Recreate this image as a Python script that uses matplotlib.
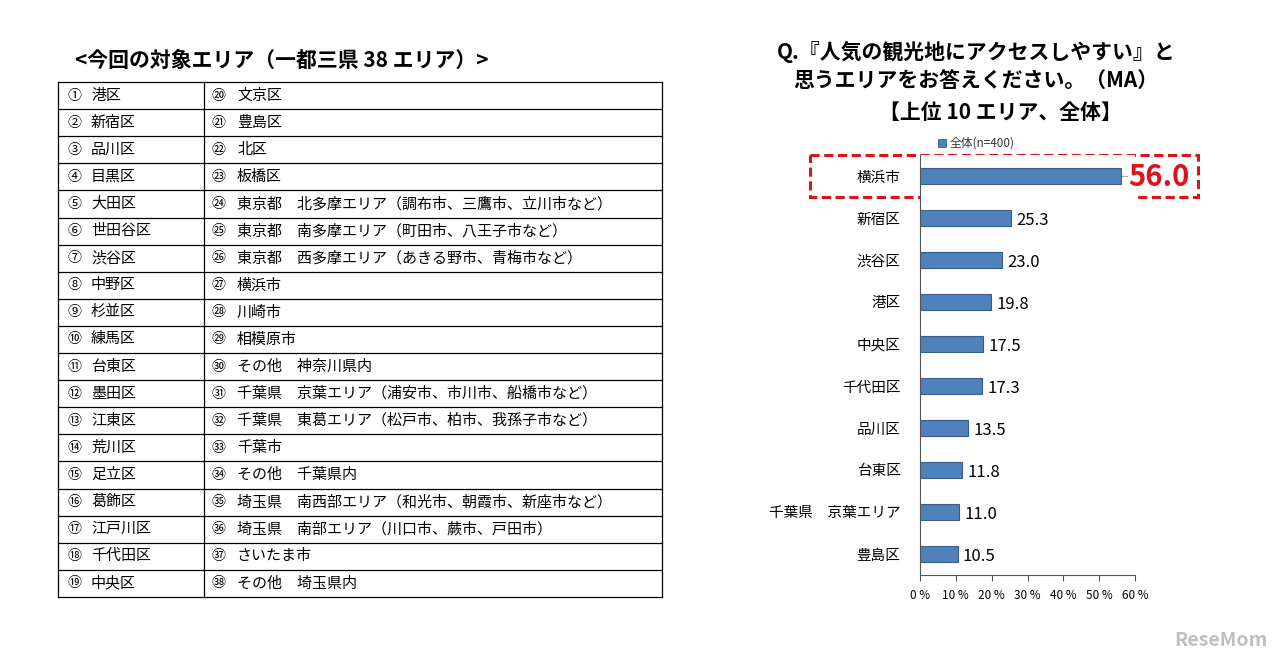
import matplotlib
matplotlib.use('Agg')
import matplotlib.pyplot as plt
from matplotlib.patches import Rectangle

plt.rcParams['font.family'] = ['Noto Sans CJK JP', 'DejaVu Sans']

# table data
leftNums = ['①', '②', '③', '④', '⑤', '⑥', '⑦', '⑧', '⑨', '⑩',
            '⑪', '⑫', '⑬', '⑭', '⑮', '⑯', '⑰', '⑱', '⑲']
leftNames = ['港区', '新宿区', '品川区', '目黒区', '大田区', '世田谷区', '渋谷区',
             '中野区', '杉並区', '練馬区', '台東区', '墨田区', '江東区', '荒川区',
             '足立区', '葛飾区', '江戸川区', '千代田区', '中央区']
rightNums = ['⑳', '㉑', '㉒', '㉓', '㉔', '㉕', '㉖', '㉗', '㉘', '㉙',
             '㉚', '㉛', '㉜', '㉝', '㉞', '㉟', '㊱', '㊲', '㊳']
rightNames = ['文京区', '豊島区', '北区', '板橋区',
              '東京都　北多摩エリア（調布市、三鷹市、立川市など）',
              '東京都　南多摩エリア（町田市、八王子市など）',
              '東京都　西多摩エリア（あきる野市、青梅市など）',
              '横浜市', '川崎市', '相模原市', 'その他　神奈川県内',
              '千葉県　京葉エリア（浦安市、市川市、船橋市など）',
              '千葉県　東葛エリア（松戸市、柏市、我孫子市など）',
              '千葉市', 'その他　千葉県内',
              '埼玉県　南西部エリア（和光市、朝霞市、新座市など）',
              '埼玉県　南部エリア（川口市、蕨市、戸田市）',
              'さいたま市', 'その他　埼玉県内']

# chart data
areas = ['横浜市', '新宿区', '渋谷区', '港区', '中央区', '千代田区', '品川区',
         '台東区', '千葉県　京葉エリア', '豊島区']
values = [56.0, 25.3, 23.0, 19.8, 17.5, 17.3, 13.5, 11.8, 11.0, 10.5]
xticks = [0, 10, 20, 30, 40, 50, 60]

W, H = 1280, 662
fig = plt.figure(figsize=(W / 100, H / 100), dpi=100)

# overlay axes in pixel coords
bg = fig.add_axes([0, 0, 1, 1])
bg.set_xlim(0, W)
bg.set_ylim(H, 0)
bg.axis('off')

# ---- table ----
bg.text(75, 60, '<今回の対象エリア（一都三県 38 エリア）>', fontsize=15,
        fontweight='bold', va='center', ha='left')
tx0, tx1, tdiv = 58, 662, 204
ty0, rowH = 82, 27.1
nRows = len(leftNames)
for i in range(nRows + 1):
    y = ty0 + i * rowH
    bg.plot([tx0, tx1], [y, y], color='black', lw=0.9)
for x in [tx0, tdiv, tx1]:
    bg.plot([x, x], [ty0, ty0 + nRows * rowH], color='black', lw=0.9)
for i in range(nRows):
    yc = ty0 + (i + 0.5) * rowH
    bg.text(67, yc, leftNums[i], fontsize=10, va='center', ha='left')
    bg.text(91, yc, leftNames[i], fontsize=10.8, va='center', ha='left')
    bg.text(212, yc, rightNums[i], fontsize=10, va='center', ha='left')
    bg.text(237, yc, rightNames[i], fontsize=10.8, va='center', ha='left')

# ---- chart titles ----
bg.text(976, 52, 'Q.『人気の観光地にアクセスしやすい』と', fontsize=15,
        fontweight='bold', va='center', ha='center')
bg.text(976, 81, '思うエリアをお答えください。（MA）', fontsize=15,
        fontweight='bold', va='center', ha='center')
bg.text(1000, 112, '【上位 10 エリア、全体】', fontsize=15,
        fontweight='bold', va='center', ha='center')

# legend
bg.add_patch(Rectangle((938, 139), 8, 8, facecolor='#4F81BD', edgecolor='#385D8A', lw=0.6))
bg.text(950, 143, '全体(n=400)', fontsize=8.5, va='center', ha='left', color='#333333')

# red dashed box
bg.add_patch(Rectangle((810, 155), 388, 42, fill=False, edgecolor='#D9141B',
                       lw=2.2, linestyle=(0, (3, 1.5))))

# ---- bar chart ----
axL, axR, axT, axB = 920, 1135, 155, 575
ax = fig.add_axes([axL / W, 1 - axB / H, (axR - axL) / W, (axB - axT) / H])
ypos = list(range(len(areas)))
ax.barh(ypos, values, height=0.4, color='#4F81BD', edgecolor='#385D8A', lw=0.8)
ax.set_xlim(0, 60)
ax.set_ylim(len(areas) - 0.5, -0.5)
ax.set_yticks(ypos)
ax.set_yticklabels(areas, fontsize=10.5)
ax.tick_params(axis='y', length=0, pad=14)
ax.set_xticks(xticks)
ax.set_xticklabels([f'{t} %' for t in xticks], fontsize=8.5)
ax.tick_params(axis='x', direction='out', length=4, color='#555555', pad=6)
for s in ['top', 'right']:
    ax.spines[s].set_visible(False)
ax.spines['left'].set_color('#555555')
ax.spines['bottom'].set_color('#555555')

for i, v in enumerate(values):
    if i == 0:
        ax.plot([v + 0.3, v + 1.8], [i, i], color='#aaaaaa', lw=0.8)
        ax.text(v + 2.0, i + 0.02, f'{v:.1f}', fontsize=21, fontweight='bold',
                color='#D9141B', va='center', ha='left')
    else:
        ax.text(v + 1.5, i + 0.05, f'{v:.1f}', fontsize=12, va='center', ha='left')

# watermark
bg.text(1268, 640, 'ReseMom', fontsize=14, fontweight='bold', color='#b0b0b0',
        va='center', ha='right', alpha=0.8)

fig.savefig('out.png', dpi=100)
